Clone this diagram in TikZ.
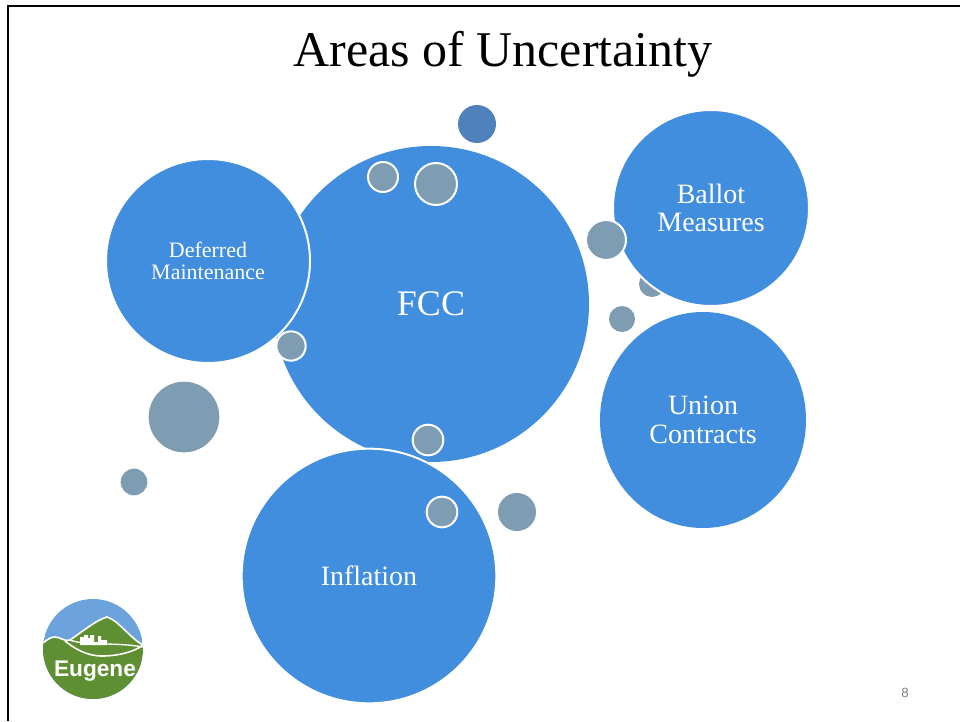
\documentclass[tikz,border=0pt]{standalone}
\usepackage{fontspec}
\setmainfont{Liberation Serif}
\setsansfont{Liberation Sans}
\usepackage{xcolor}
\usepackage{tikz}
\usetikzlibrary{shapes.geometric}
\definecolor{bubbleblue}{HTML}{418DDE}
\definecolor{darkblue}{HTML}{4F81BD}
\definecolor{slate}{HTML}{7F9DB2}
\definecolor{skyblue}{HTML}{6CA3DC}
\definecolor{leafgreen}{HTML}{5E8F32}
\tikzset{
  big/.style={circle, fill=bubbleblue, text=white, inner sep=0pt, align=center},
  rimmed/.style={big, draw=white, line width=1.5pt},
  dot/.style={circle, fill=slate, inner sep=0pt},
  rimdot/.style={dot, draw=white, line width=1.5pt},
  midtext/.style={node font=\fontsize{21}{21.5}\selectfont}
}
\begin{document}
\begin{tikzpicture}[x=0.75pt, y=-0.75pt]
\useasboundingbox (0,0) rectangle (960,721);
\fill[white] (0,0) rectangle (960,721);
\draw[line width=2.2pt] (8,721) -- (8,6) -- (960,6);

\node[inner sep=0pt, node font=\fontsize{37.5}{40}\selectfont] (title) at (503,54) {Areas of Uncertainty};

\node[dot, minimum size=19.5pt] (d5) at (652,284) {};
\node[big, minimum size=237pt, node font=\fontsize{27}{30}\selectfont] (fcc) at (431,304) {FCC};
\node[rimmed, minimum size=153pt, node font=\fontsize{16.5}{16.5}\selectfont] (deferred) at (208,261) {Deferred\\Maintenance};
\node[rimmed, midtext, minimum size=147pt] (ballot) at (711,208) {Ballot\\Measures};
\node[ellipse, midtext, fill=bubbleblue, text=white, inner sep=0pt, align=center, minimum width=154.5pt, minimum height=162pt] (union) at (703,420) {Union\\Contracts};
\node[rimmed, midtext, minimum size=191pt] (inflation) at (369,576) {Inflation};

\node[circle, fill=darkblue, inner sep=0pt, minimum size=28.5pt] (d1) at (477,124) {};
\node[rimdot, minimum size=22.5pt] (d2) at (383,177) {};
\node[rimdot, minimum size=31.5pt] (d3) at (436,184) {};
\node[rimdot, minimum size=30pt] (d4) at (606,240) {};
\node[dot, minimum size=19.5pt] (d6) at (622,319) {};
\node[rimdot, minimum size=22pt] (d7) at (291,346) {};
\node[rimdot, minimum size=23pt] (d8) at (428,440) {};
\node[rimdot, minimum size=23pt] (d9) at (442,512) {};
\node[dot, minimum size=28.5pt] (d10) at (517,512) {};
\node[dot, minimum size=53pt] (d11) at (184,417) {};
\node[dot, minimum size=20pt] (d12) at (134,482) {};

% logo
\begin{scope}
\clip (93,649) circle (37.5pt);
\fill[skyblue] (43,599) rectangle (143,699);
\fill[leafgreen] (43,643) .. controls (48,639) and (51,637) .. (55,637) .. controls (60,637) and (65,642) .. (70,640) .. controls (82,632) and (96,620) .. (107,617) .. controls (118,620) and (130,638) .. (143,645) -- (143,699) -- (43,699) -- cycle;
\draw[white, line width=1.2pt] (43,643) .. controls (48,639) and (51,637) .. (55,637) .. controls (60,637) and (65,642) .. (70,640) .. controls (82,632) and (96,620) .. (107,617) .. controls (118,620) and (130,638) .. (143,645);
\fill[white] (80,643) -- (80,637) -- (84,637) -- (84,635) -- (88,635) -- (88,638) -- (90,638) -- (90,635) -- (94,635) -- (94,642) -- (98,642) -- (98,636) -- (101,636) -- (101,640) -- (107,640) -- (107,645) -- (80,645) -- cycle;
\draw[white, line width=1.2pt] (65,641) .. controls (74,648) and (86,656) .. (102,656) .. controls (118,656) and (134,652) .. (143,645);
\draw[white, line width=1pt] (70,640) .. controls (86,646) and (116,642) .. (143,647);
\end{scope}
\node[inner sep=0pt, text=white, node font=\sffamily\bfseries\fontsize{17}{20}\selectfont] (logo) at (95,671) {Eugene};

\node[inner sep=0pt, text=gray, node font=\sffamily\fontsize{10}{12}\selectfont] (page) at (905,693) {8};
\end{tikzpicture}
\end{document}
